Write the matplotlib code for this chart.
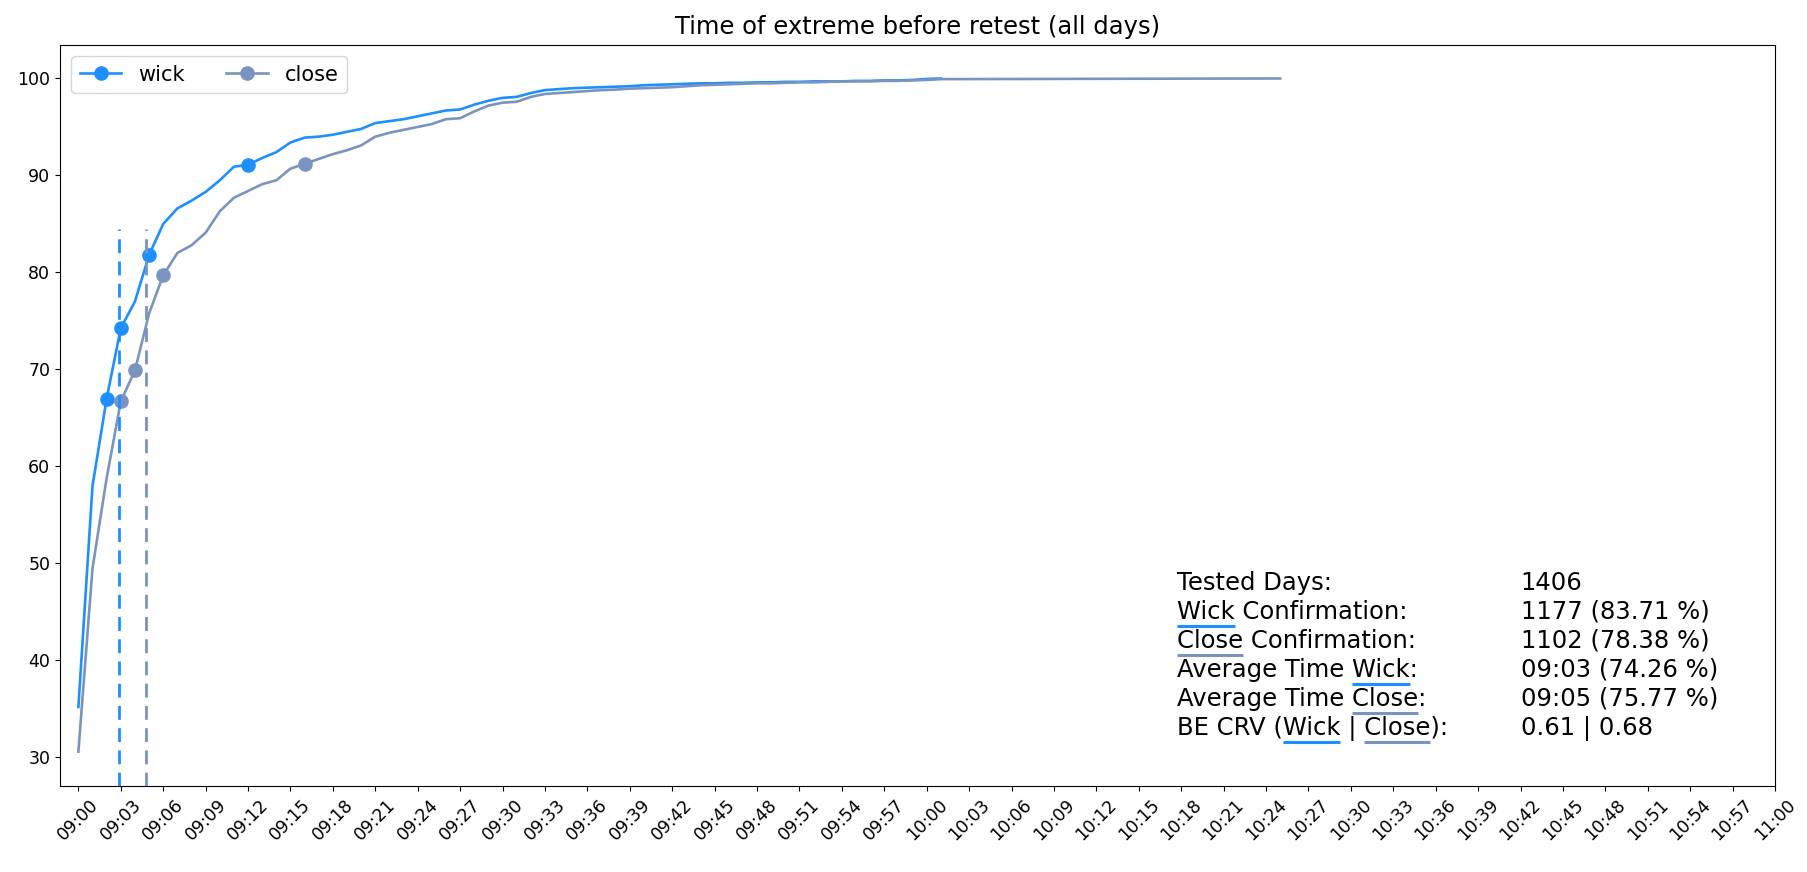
import numpy as np
import matplotlib
matplotlib.use('Agg')
import matplotlib.pyplot as plt

# cumulative share (%) of days whose extreme was set by a given minute after 09:00
wick_min = list(range(0, 62))
wick_pct = [35.2, 58.0, 67.0, 74.26, 77.0, 81.8, 85.0, 86.6, 87.4, 88.3,
            89.5, 90.9, 91.1, 91.8, 92.4, 93.4, 93.9, 94.0, 94.2, 94.5,
            94.8, 95.4, 95.6, 95.8, 96.1, 96.4, 96.7, 96.8, 97.3, 97.7,
            98.0, 98.1, 98.5, 98.8, 98.9, 99.0, 99.05, 99.1, 99.15, 99.2,
            99.3, 99.35, 99.4, 99.45, 99.5, 99.5, 99.55, 99.55, 99.6, 99.6,
            99.65, 99.65, 99.7, 99.7, 99.7, 99.75, 99.75, 99.8, 99.8, 99.85,
            99.95, 100.0]

close_min = list(range(0, 62)) + [85]
close_pct = [30.6, 49.5, 58.8, 66.7, 69.9, 75.77, 79.7, 82.0, 82.8, 84.1,
             86.3, 87.7, 88.4, 89.1, 89.5, 90.7, 91.2, 91.7, 92.2, 92.6,
             93.1, 94.0, 94.4, 94.7, 95.0, 95.3, 95.8, 95.9, 96.6, 97.2,
             97.5, 97.6, 98.1, 98.4, 98.5, 98.6, 98.7, 98.8, 98.85, 98.95,
             99.0, 99.05, 99.1, 99.2, 99.3, 99.35, 99.4, 99.45, 99.5, 99.5,
             99.55, 99.6, 99.6, 99.65, 99.7, 99.7, 99.7, 99.75, 99.75, 99.8,
             99.85, 99.93, 100.0]

# minutes where markers are shown
wick_marks = [2, 3, 5, 12]
close_marks = [3, 4, 6, 16]

# average time lines (minutes after 09:00) and their height
avg_wick_min = 2.9
avg_close_min = 4.8
avg_line_top = 84.5

# stats box
stat_labels = ["Tested Days:", "Wick Confirmation:", "Close Confirmation:",
               "Average Time Wick:", "Average Time Close:", "BE CRV (Wick | Close):"]
stat_values = ["1406", "1177 (83.71 %)", "1102 (78.38 %)",
               "09:03 (74.26 %)", "09:05 (75.77 %)", "0.61 | 0.68"]

wick_color = '#1E8FFF'
close_color = '#7A94BF'

fig = plt.figure(figsize=(18.07, 8.72), dpi=100)
ax = fig.add_axes([60 / 1807, 1 - 786 / 872, (1775 - 60) / 1807, (786 - 45) / 872])

ax.plot(wick_min, wick_pct, color=wick_color, lw=1.9, marker='o', markersize=9.5,
        markevery=[wick_min.index(m) for m in wick_marks], label='wick')
ax.plot(close_min, close_pct, color=close_color, lw=1.9, marker='o', markersize=9.5,
        markevery=[close_min.index(m) for m in close_marks], label='close')

ax.set_xlim(-1.3, 120)
ax.set_ylim(27.05, 103.45)
ylo, yhi = ax.get_ylim()
ax.axvline(avg_wick_min, ymax=(avg_line_top - ylo) / (yhi - ylo), color=wick_color,
           lw=2, linestyle=(0, (5, 3)))
ax.axvline(avg_close_min, ymax=(avg_line_top - ylo) / (yhi - ylo), color=close_color,
           lw=2, linestyle=(0, (5, 3)))

ticks = list(range(0, 121, 3))
ax.set_xticks(ticks)
ax.set_xticklabels([f"{9 + t // 60:02d}:{t % 60:02d}" for t in ticks], rotation=45,
                   fontsize=12.5)
ax.tick_params(axis='y', labelsize=12.5)

ax.set_title("Time of extreme before retest (all days)", fontsize=17.5, pad=8)
ax.legend(loc='upper left', ncol=2, fontsize=15, borderaxespad=0.55)

# stats text with coloured underlines
fs = 17.5
x_left, x_right = 77.7, 102
fig.canvas.draw()
renderer = fig.canvas.get_renderer()


def width_px(s):
    t = ax.text(0, 0, s, fontsize=fs)
    w = t.get_window_extent(renderer).width
    t.remove()
    return w


underlined = {"Wick": wick_color, "Close": close_color}
for i, (lab, val) in enumerate(zip(stat_labels, stat_values)):
    y = 47.3 - 3.0 * i
    ax.text(x_left, y, lab, fontsize=fs, va='baseline', ha='left')
    ax.text(x_right, y, val, fontsize=fs, va='baseline', ha='left')
    x0_px, y_px = ax.transData.transform((x_left, y))
    for word, col in underlined.items():
        start = lab.find(word)
        if start < 0 or i == 0:
            continue
        pre = lab[:start + len(word)]
        x_end = x0_px + width_px(pre)
        x_start = x_end - width_px(word)
        p0 = ax.transData.inverted().transform((x_start, y_px - 7))
        p1 = ax.transData.inverted().transform((x_end, y_px - 7))
        ax.plot([p0[0], p1[0]], [p0[1], p1[1]], color=col, lw=2.2,
                solid_capstyle='butt', scalex=False, scaley=False)

fig.savefig('out.png', dpi=100)
